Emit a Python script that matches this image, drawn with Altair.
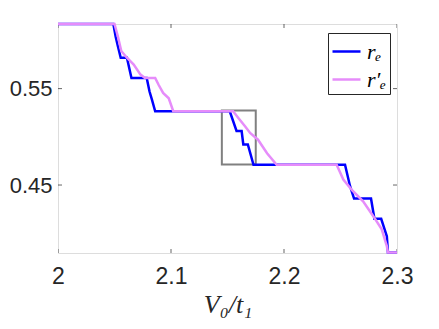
import altair as alt
import pandas as pd

# series r_e (blue)
blue_x = [2.000, 2.049, 2.051, 2.053, 2.0555, 2.061, 2.065, 2.0785, 2.081, 2.083, 2.086,
          2.152, 2.158, 2.1625, 2.164, 2.168, 2.173, 2.254, 2.2584, 2.262, 2.277, 2.280,
          2.286, 2.291, 2.292, 2.300]
blue_y = [0.617, 0.617, 0.604, 0.594, 0.582, 0.582, 0.561, 0.561, 0.547, 0.539, 0.5265,
          0.5265, 0.506, 0.506, 0.492, 0.492, 0.471, 0.471, 0.449, 0.436, 0.436, 0.415,
          0.415, 0.397, 0.380, 0.380]

# series r'_e (violet)
pink_x = [2.000, 2.050, 2.053, 2.056, 2.061, 2.067, 2.073, 2.077, 2.086, 2.089, 2.093,
          2.098, 2.102, 2.155, 2.1596, 2.1655, 2.170, 2.177, 2.185, 2.1935, 2.2466, 2.2525,
          2.260, 2.270, 2.279, 2.2865, 2.291, 2.292, 2.300]
pink_y = [0.617, 0.617, 0.604, 0.589, 0.582, 0.575, 0.5645, 0.561, 0.561, 0.554, 0.5455,
          0.540, 0.5265, 0.5265, 0.5196, 0.511, 0.504, 0.497, 0.483, 0.471, 0.471, 0.4557,
          0.445, 0.433, 0.4177, 0.404, 0.3866, 0.380, 0.380]

series_names = ["r\u2091", "r\u2032\u2091"]
series_colors = ["#0000FF", "#E68CFA"]

box_x = [2.145, 2.175]
box_y = [0.4712, 0.5272]

x_ticks = [2, 2.1, 2.2, 2.3]
y_ticks = [0.45, 0.55]
x_domain = [2.0, 2.3]
y_domain = [0.3795, 0.617]

rows = []
for i, (xv, yv) in enumerate(zip(blue_x, blue_y)):
    rows.append({"x": xv, "y": yv, "s": series_names[0], "i": i})
for i, (xv, yv) in enumerate(zip(pink_x, pink_y)):
    rows.append({"x": xv, "y": yv, "s": series_names[1], "i": i})
df = pd.DataFrame(rows)

xs = alt.Scale(domain=x_domain, nice=False, zero=False)
ys = alt.Scale(domain=y_domain, nice=False, zero=False)

lines = alt.Chart(df).mark_line(strokeWidth=2.5).encode(
    x=alt.X("x:Q", scale=xs,
            axis=alt.Axis(values=x_ticks, ticks=False, grid=False, domain=False,
                          labelFlush=False, labelOverlap=False,
                          labelFontSize=23, labelFont="Liberation Sans", labelColor="#262626",
                          labelPadding=12, labelExpr="datum.value == 2 ? '2' : format(datum.value, '.1f')",
                          title="V\u2080/t\u2081", titleFont="Liberation Serif",
                          titleFontStyle="italic", titleFontWeight="normal",
                          titleFontSize=26, titleColor="#262626", titlePadding=3)),
    y=alt.Y("y:Q", scale=ys,
            axis=alt.Axis(values=y_ticks, ticks=False, grid=False, domain=False,
                          labelFlush=False, labelOverlap=False,
                          labelFontSize=22, labelFont="Liberation Sans", labelColor="#262626",
                          labelPadding=6, format=".2f", title=None)),
    color=alt.Color("s:N", scale=alt.Scale(domain=series_names, range=series_colors),
                    legend=alt.Legend(title=None, orient="none", legendX=270, legendY=9,
                                      direction="vertical", fillColor="white",
                                      strokeColor="#262626", padding=3,
                                      symbolType="stroke", symbolSize=784,
                                      symbolStrokeWidth=2.5, labelFontSize=22,
                                      labelFont="Liberation Serif", labelFontStyle="italic",
                                      labelColor="#000000", rowPadding=1, labelOffset=5)),
    order="i:Q",
)

box_df = pd.DataFrame({"x": [box_x[0]], "x2": [box_x[1]], "y": [box_y[0]], "y2": [box_y[1]]})
box = alt.Chart(box_df).mark_rect(fill=None, stroke="#808080", strokeWidth=2).encode(
    x=alt.X("x:Q", scale=xs), x2="x2:Q", y=alt.Y("y:Q", scale=ys), y2="y2:Q"
)

xt_rows = []
for v in x_ticks:
    xt_rows.append({"x": v, "y": y_domain[0]})
    xt_rows.append({"x": v, "y": y_domain[1]})
xt = alt.Chart(pd.DataFrame(xt_rows)).mark_tick(orient="vertical", size=8, thickness=1,
                                                 color="#262626", clip=True).encode(
    x=alt.X("x:Q", scale=xs), y=alt.Y("y:Q", scale=ys))

yt_rows = []
for v in y_ticks:
    yt_rows.append({"x": x_domain[0], "y": v})
    yt_rows.append({"x": x_domain[1], "y": v})
yt = alt.Chart(pd.DataFrame(yt_rows)).mark_tick(orient="horizontal", size=8, thickness=1,
                                                 color="#262626", clip=True).encode(
    x=alt.X("x:Q", scale=xs), y=alt.Y("y:Q", scale=ys))

chart = alt.layer(box, xt, yt, lines).properties(
    width=339, height=229,
    autosize=alt.AutoSizeParams(type="none"),
    padding={"left": 50, "top": 16, "right": 34, "bottom": 68},
).configure_view(stroke="#262626", strokeWidth=1.5).configure(background="white")

chart.save("out.html", embed_options={"renderer": "svg", "actions": False})
